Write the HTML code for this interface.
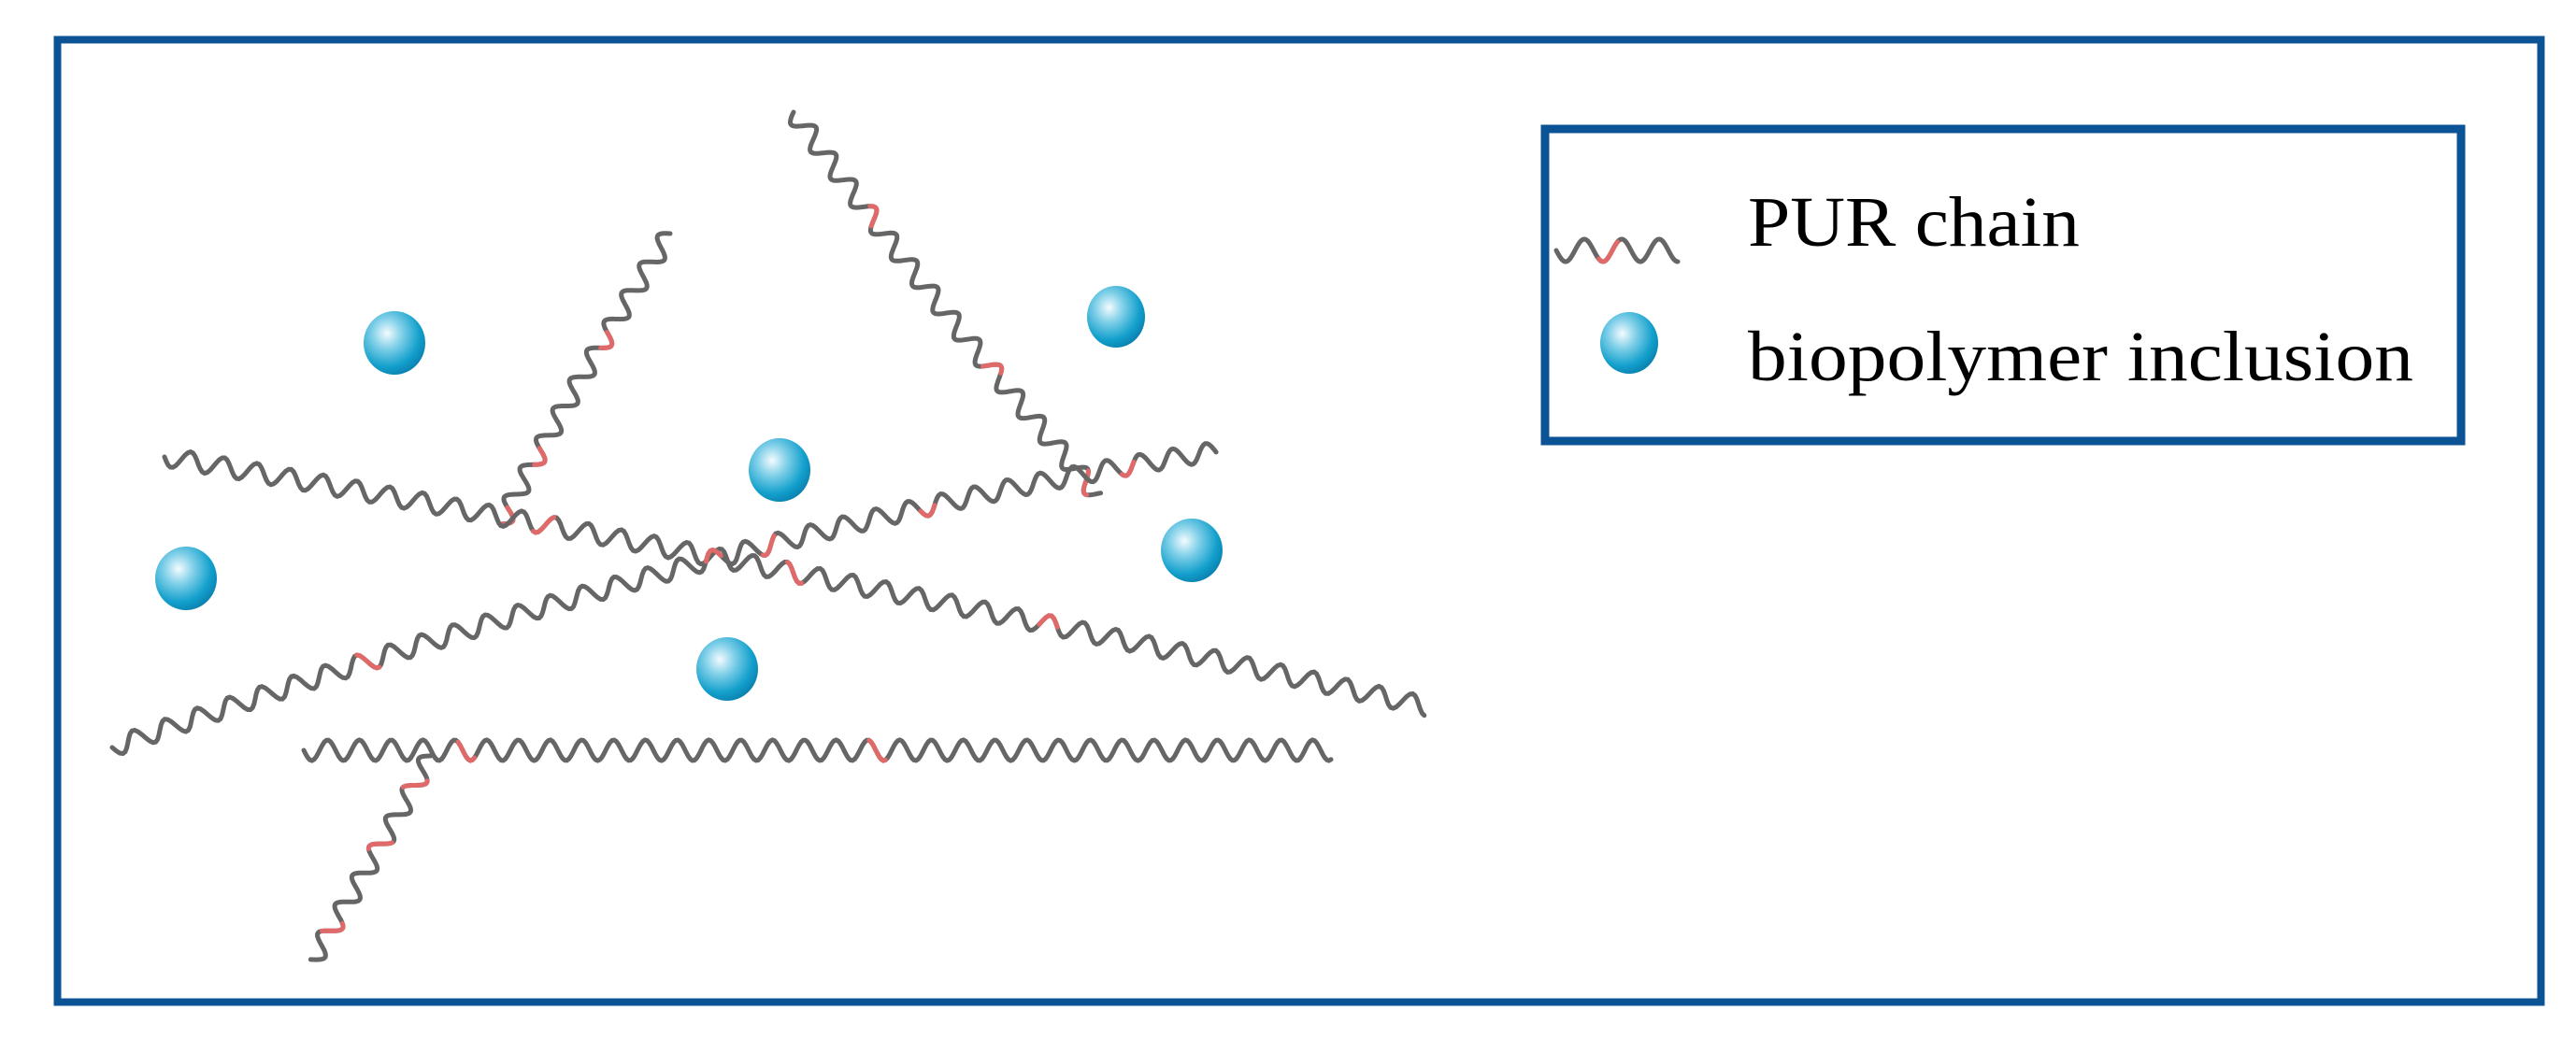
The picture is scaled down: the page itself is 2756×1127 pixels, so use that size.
<!DOCTYPE html>
<html><head><meta charset="utf-8"><style>
html,body{margin:0;padding:0;background:#fff;width:2756px;height:1127px;overflow:hidden}
</style></head><body>
<svg id="s" width="2756" height="1127" xmlns="http://www.w3.org/2000/svg">
<defs>
<radialGradient id="g" cx="0.38" cy="0.35" r="0.7">
<stop offset="0" stop-color="#f4fbfe"/>
<stop offset="0.35" stop-color="#7fcfe8"/>
<stop offset="0.75" stop-color="#13a0cc"/>
<stop offset="1" stop-color="#0a7fae"/>
</radialGradient>
</defs>
<rect x="61.5" y="42.5" width="2657" height="1030" fill="none" stroke="#0b5394" stroke-width="8"/>
<rect x="1653" y="138" width="980" height="334" fill="none" stroke="#0b5394" stroke-width="9"/>
<text x="1870" y="263" font-family="Liberation Serif, serif" font-size="76" fill="#000" textLength="355" lengthAdjust="spacingAndGlyphs">PUR chain</text>
<text x="1870" y="407" font-family="Liberation Serif, serif" font-size="76" fill="#000" textLength="712" lengthAdjust="spacingAndGlyphs">biopolymer inclusion</text>
<g id="chains" fill="none" stroke-width="5" stroke-linecap="round"></g>
<g fill="url(#g)">
<ellipse cx="1743" cy="367" rx="31" ry="33"/>
<ellipse cx="422" cy="367" rx="33" ry="34"/>
<ellipse cx="1194" cy="339" rx="31" ry="33"/>
<ellipse cx="834" cy="503" rx="33" ry="34"/>
<ellipse cx="199" cy="619" rx="33" ry="34"/>
<ellipse cx="1275" cy="589" rx="33" ry="34"/>
<ellipse cx="778" cy="716" rx="33" ry="34"/>
</g>
</svg>
<script>
var g=document.getElementById('chains');
function q(p0,p1,p2,t){var u=1-t;return [u*u*p0[0]+2*u*t*p1[0]+t*t*p2[0],u*u*p0[1]+2*u*t*p1[1]+t*t*p2[1]];}
function chain(p0,p1,p2,reds,wl,amp){
  wl=wl||36;amp=amp||10;
  var L=0,prev=p0,N=500,pts=[p0],ls=[0];
  for(var i=1;i<=N;i++){var p=q(p0,p1,p2,i/N);L+=Math.hypot(p[0]-prev[0],p[1]-prev[1]);pts.push(p);ls.push(L);prev=p;}
  var out=[];
  for(var i=0;i<=N;i++){
    var a=pts[Math.max(0,i-1)],b=pts[Math.min(N,i+1)];
    var dx=b[0]-a[0],dy=b[1]-a[1],d=Math.hypot(dx,dy);
    var nx=-dy/d,ny=dx/d,o=amp*Math.sin(2*Math.PI*ls[i]/wl);
    out.push([pts[i][0]+nx*o,pts[i][1]+ny*o]);
  }
  var d='M'+out.map(function(p){return p[0].toFixed(1)+' '+p[1].toFixed(1)}).join('L');
  var e=document.createElementNS('http://www.w3.org/2000/svg','path');
  e.setAttribute('d',d);e.setAttribute('stroke','#666');g.appendChild(e);
  (reds||[]).forEach(function(t){
    var s=Math.floor(t*N),n=Math.round(N*wl*0.5/L);
    var seg=out.slice(s,Math.min(N,s+n)+1);
    var r=document.createElementNS('http://www.w3.org/2000/svg','path');
    r.setAttribute('d','M'+seg.map(function(p){return p[0].toFixed(1)+' '+p[1].toFixed(1)}).join('L'));
    r.setAttribute('stroke','#e06a6a');g.appendChild(r);
  });
}
chain([849,120],[1000,330],[1175,530],[0.25,0.65,0.95]);
chain([717,250],[620,400],[536,560],[0.35,0.75,0.95]);
chain([176,489],[830,600],[1526,756],[0.3,0.5,0.7]);
chain([120,800],[800,560],[1301,483],[0.2,0.5,0.55,0.7,0.9]);
chain([325,803],[875,803],[1424,803],[0.15,0.55],34,11);
chain([461,809],[400,920],[334,1028],[0.1,0.4,0.8]);
chain([1665,268],[1730,268],[1795,268],[0.35],40,12);
</script>
</body></html>
